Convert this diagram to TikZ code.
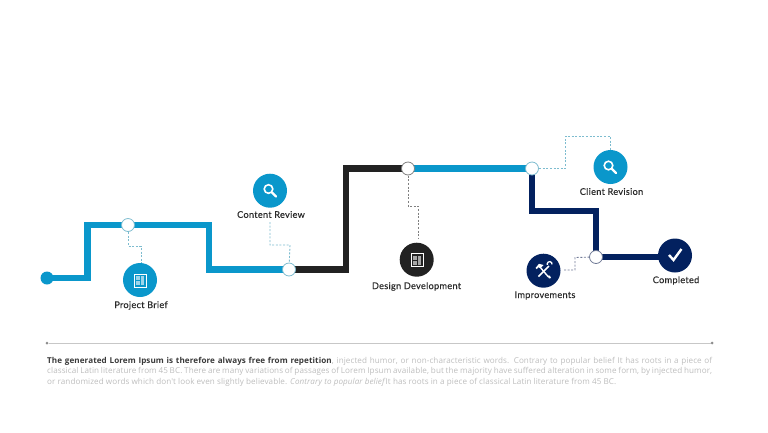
\documentclass[tikz,border=0pt]{standalone}
\usepackage{fontspec}
\setmainfont{Lato}
\newfontfamily\bodyfont[LetterSpace=1]{Open Sans}
\usetikzlibrary{backgrounds}
\definecolor{cblue}{HTML}{0A97CB}
\definecolor{cblack}{HTML}{222222}
\definecolor{cnavy}{HTML}{03215F}
\definecolor{cdash}{HTML}{7DBCCF}
\definecolor{cdashk}{HTML}{808080}
\definecolor{cdashn}{HTML}{707A96}
\definecolor{clabel}{HTML}{2A2A2A}
\definecolor{cbody}{HTML}{BDBDBD}
\definecolor{cbold}{HTML}{3A3A3A}
\tikzset{
  x=1pt,y=-1pt,
  trackline/.style={line width=6.2pt,line join=miter},
  junction/.style={circle,draw=#1,fill=white,line width=0.8pt,minimum size=13pt,inner sep=0pt,outer sep=0pt},
  disc/.style={circle,fill=#1,minimum size=34pt,inner sep=0pt,outer sep=0pt},
  startdot/.style={circle,fill=cblue,minimum size=13pt,inner sep=0pt,outer sep=0pt},
  dashline/.style={draw=#1,line width=0.9pt,dash pattern=on 2pt off 1.6pt},
  steplabel/.style={text=clabel,font=\fontsize{9.2}{11}\selectfont\addfontfeatures{LetterSpace=3,FakeBold=0.15},inner sep=0pt},
  icon/.style={draw=white,line width=1.6pt,line cap=round},
  endmark/.style={circle,fill=#1,minimum size=3pt,inner sep=0pt,outer sep=0pt},
}
\begin{document}
\begin{tikzpicture}
\useasboundingbox (0,0) rectangle (768,432);
% junctions and start
\node[startdot] (start) at (47,278) {};
\node[junction=cdash] (j1) at (128,225) {};
\node[junction=cdash] (j2) at (289,269.5) {};
\node[junction=cdashk] (j3) at (408,168.5) {};
\node[junction=cdash] (j4) at (532,168.5) {};
\node[junction=cdashn] (j5) at (596,257) {};
% discs
\node[disc=cblue] (brief) at (140,280) {};
\node[disc=cblue] (review) at (270,190.7) {};
\node[disc=cblack] (design) at (416.7,259.7) {};
\node[disc=cblue] (client) at (610.5,167) {};
\node[disc=cnavy] (improve) at (543.5,270.7) {};
\node[disc=cnavy] (done) at (675,255.5) {};
% labels
\node[steplabel] (lbrief) at (141,305.5) {Project Brief};
\node[steplabel] (lreview) at (271,214.5) {Content Review};
\node[steplabel] (ldesign) at (416.5,286.5) {Design Development};
\node[steplabel] (lclient) at (611.5,191.5) {Client Revision};
\node[steplabel] (limprove) at (545,295.5) {Improvements};
\node[steplabel] (ldone) at (676,280.5) {Completed};
% tracks and dashed leaders
\begin{scope}[on background layer]
  \coordinate (a1) at (87.5,278);
  \coordinate (a2) at (87.5,225);
  \coordinate (a3) at (209,225);
  \coordinate (a4) at (209,269.5);
  \draw[trackline,cblue] (start.center) -- (a1) -- (a2) -- (j1.center) -- (a3) -- (a4) -- (j2.center);
  \coordinate (b1) at (346,269.5);
  \coordinate (b2) at (346,168.5);
  \draw[trackline,cblack] (j2.center) -- (b1) -- (b2) -- (j3.center);
  \draw[trackline,cblue] (j3.center) -- (j4.center);
  \coordinate (c1) at (532,211);
  \coordinate (c2) at (596,211);
  \draw[trackline,cnavy] (j4.center) -- (c1) -- (c2) -- (j5.center);
  \coordinate (c3) at (675,257);
  \draw[trackline,cnavy] (j5.center) -- (c3);
  \draw[dashline=cdash] (j1.center) -- (128,246) -- (141,246) -- (141,263);
  \draw[dashline=cdash] (270,222) -- (270,245) -- (290,245) -- (j2.center);
  \draw[dashline=cdashk] (j3.center) -- (408,206) -- (418,206) -- (418,238);
  \draw[dashline=cdash] (j4.center) -- (565.5,168.5) -- (565.5,136) -- (610,136) -- (610,150);
  \draw[dashline=cdashn] (564,270) -- (575,270) -- (575,257.5) -- (j5.center);
\end{scope}
% icons: document (brief)
\draw[white,line width=1pt] (134,274) rectangle (146.5,287);
\fill[white,opacity=.6] (136.2,276) rectangle (144.3,285);
\fill[cblue] (140,276) rectangle (141,285);
\fill[cblue] (136.2,280.2) rectangle (140,281.2);
% icons: document (design)
\draw[white,line width=1pt] (411,253.5) rectangle (423,266.5);
\fill[white,opacity=.6] (413,255.5) rectangle (421,264.5);
\fill[cblack] (416.8,255.5) rectangle (417.6,264.5);
\fill[cblack] (413,259.7) rectangle (416.8,260.5);
% icons: magnifiers
\draw[white,line width=1.6pt] (268.5,189) circle (4.3);
\draw[icon,line width=2.2pt] (272,192.5) -- (276,196.5);
\draw[white,line width=1.6pt] (608.5,165.5) circle (4.3);
\draw[icon,line width=2.2pt] (612,169) -- (616,173);
% icons: tools (hammer and spanner)
\draw[icon,line width=1.5pt,line cap=butt] (538.5,276.5) -- (549,266);
\draw[icon,line width=1.4pt,line cap=butt] (548.5,277) -- (539.5,266.5);
\fill[white] (535.5,268) -- (539,263.8) -- (543.5,265) -- (540.5,268.2) -- (538.3,267.2) -- (536.8,269.2) -- cycle;
\draw[white,line width=1.3pt] (552,264.4) arc (10:-200:2.4);
\fill[white] (547.5,275.8) -- (549.8,275.5) -- (551,278) -- (549,278.5) -- cycle;
% icon: check
\draw[icon,line width=2.4pt,line cap=butt,line join=miter] (669,255) -- (673.5,260) -- (681.5,249);
% rule
\node[endmark=cdashk!90] (ruleL) at (47,343) {};
\node[endmark=cdashk!90] (ruleR) at (712,343) {};
\draw[draw=black!22,line width=0.8pt] (ruleL) -- (ruleR);
% body text
\node[anchor=north west,inner sep=0pt,text=cbody,font=\bodyfont\fontsize{8.1}{10.5}\selectfont] (body) at (47,356.6) {%
\vbox{\hsize=665pt\parindent=0pt\baselineskip=10.5pt
\hbox to 665pt{{\color{cbold}\bfseries The generated Lorem Ipsum is therefore always free from repetition}, injected humor, or non-characteristic words. Contrary to popular belief It has roots in a piece of}
\hbox to 665pt{classical Latin literature from 45 BC. There are many variations of passages of Lorem Ipsum available, but the majority have suffered alteration in some form, by injected humor,}
\hbox{or randomized words which don't look even slightly believable. {\itshape Contrary to popular belief}\kern1pt It has roots in a piece of classical Latin literature from 45 BC.}}};
\end{tikzpicture}
\end{document}
